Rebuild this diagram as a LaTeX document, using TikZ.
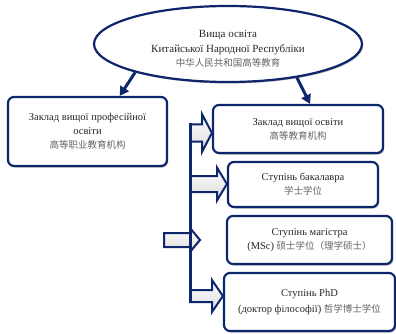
\documentclass[tikz,border=0pt]{standalone}
\usepackage{fontspec}
\setmainfont{Liberation Serif}
\newfontfamily\cjk{Noto Sans CJK SC}
\usetikzlibrary{shapes.geometric,arrows.meta,shadows,calc}
\definecolor{navy}{RGB}{14,38,108}
\definecolor{txt}{RGB}{40,40,40}
\definecolor{zh}{RGB}{100,100,100}
\newcommand\zh[1]{{\cjk\color{zh}\fontsize{9.5}{14}\selectfont #1}}
\tikzset{
  softshadow/.style={drop shadow={shadow xshift=1.2pt,shadow yshift=-1.5pt,fill=black,opacity=0.3}},
  boxnode/.style={draw=navy, line width=2.2pt, rounded corners=6pt, fill=white, softshadow,
    align=center, inner sep=0pt, text=txt, font=\fontsize{10.5}{14}\selectfont},
  rootnode/.style={ellipse, draw=navy, line width=2.2pt, fill=white, softshadow,
    align=center, inner sep=0pt, text=txt, font=\fontsize{11}{14.5}\selectfont},
  conn/.style={draw=navy, line width=3pt, -{Triangle[length=9pt,width=10pt]}},
  blk/.style={draw=navy, line width=2pt, top color=white, bottom color=gray!28, line join=miter},
  bus/.style={draw=navy, line width=3pt}
}
\begin{document}
\begin{tikzpicture}[x=1pt,y=-1pt]
\useasboundingbox (0,0) rectangle (396,334);

\coordinate (y1) at (0,133);
\coordinate (y2) at (0,184);
\coordinate (y4) at (0,296);
\coordinate (inctip) at (200,240);
\coordinate (bustop) at (190,123);
\coordinate (busbot) at (190,302);

\node[rootnode, minimum width=268pt, minimum height=76pt] (root) at (228,44)
  {\rule{0pt}{17pt}Вища освіта\\Китайської Народної Республіки\\\zh{中华人民共和国高等教育}};

\node[boxnode, minimum width=159pt, minimum height=69pt] (left) at (87.5,131.5)
  {Заклад вищої професійної\\освіти\\\zh{高等职业教育机构}};

\node[boxnode, minimum width=170pt, minimum height=48pt] (b1) at (298,129)
  {Заклад вищої освіти\\\zh{高等教育机构}};
\node[boxnode, minimum width=150pt, minimum height=45pt] (b2) at (303,184.5)
  {Ступінь бакалавра\\\zh{学士学位}};
\node[boxnode, minimum width=165pt, minimum height=48pt] (b3) at (309.5,240)
  {Ступінь магістра\\(MSc) \zh{硕士学位（理学硕士）}};
\node[boxnode, minimum width=171pt, minimum height=58pt] (b4) at (309.5,302)
  {Ступінь PhD\\[2pt](доктор філософії) \zh{哲学博士学位}};

\draw[conn] (root.197) -- ($(left.north west)!0.7!(left.north east)$);
\draw[conn] (root.334) -- ($(b1.north west)!0.57!(b1.north east)$);

\draw[blk] (bustop |- 0,124.5) -- (202,124.5) -- (202,114) -- (b1.west |- y1)
  -- (202,152) -- (202,141.5) -- (190,141.5) -- cycle;
\draw[blk] (190,176) -- (217,176) -- (217,167.5) -- (b2.west |- y2)
  -- (217,200.5) -- (217,192) -- (190,192) -- cycle;
\draw[blk] (190,290) -- (212,290) -- (212,280) -- (b4.west |- y4)
  -- (212,312) -- (212,302) -- (190,302) -- cycle;
\draw[blk] (164,233) -- (190,233) -- (190,228) -- (inctip)
  -- (190,252) -- (190,247) -- (164,247) -- cycle;

\draw[bus] (bustop) -- (busbot);
\end{tikzpicture}
\end{document}
